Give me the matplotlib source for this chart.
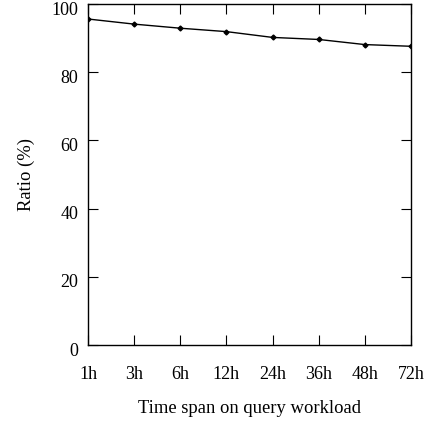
import matplotlib
matplotlib.use("Agg")
import matplotlib.pyplot as plt
from matplotlib.transforms import ScaledTranslation

# Data
time_spans = ["1h", "3h", "6h", "12h", "24h", "36h", "48h", "72h"]
ratio = [95.6, 94.1, 92.9, 91.9, 90.2, 89.6, 88.1, 87.6]

plt.rcParams["font.family"] = ["Liberation Serif", "DejaVu Serif"]
plt.rcParams["font.size"] = 13

fig = plt.figure(figsize=(4.3, 4.23), dpi=100)
ax = fig.add_axes([88 / 430, 1 - 345 / 423, (411 - 88) / 430, (345 - 4) / 423])

x = list(range(len(time_spans)))
ax.plot(x, ratio, color="black", linewidth=1.0, marker="D", markersize=2.5)

ax.set_xlim(0, len(time_spans) - 1)
ax.set_ylim(0, 100)
ax.set_xticks(x)
ax.set_xticklabels(time_spans)
ax.set_yticks([0, 20, 40, 60, 80, 100])

ax.tick_params(direction="in", top=True, right=True, length=7, width=0.8)
ax.tick_params(axis="x", pad=15)
ax.tick_params(axis="y", pad=7)
for s in ax.spines.values():
    s.set_linewidth(1.0)

# y tick labels sit a little below their ticks in the original
shift = ScaledTranslation(0, -3 / 72, fig.dpi_scale_trans)
for lab in ax.get_yticklabels():
    lab.set_transform(lab.get_transform() + shift)

ax.set_xlabel("Time span on query workload", fontsize=13.4, labelpad=12)
ax.set_ylabel("Ratio (%)", fontsize=13.4, labelpad=12)

fig.savefig("out.png", dpi=100)
